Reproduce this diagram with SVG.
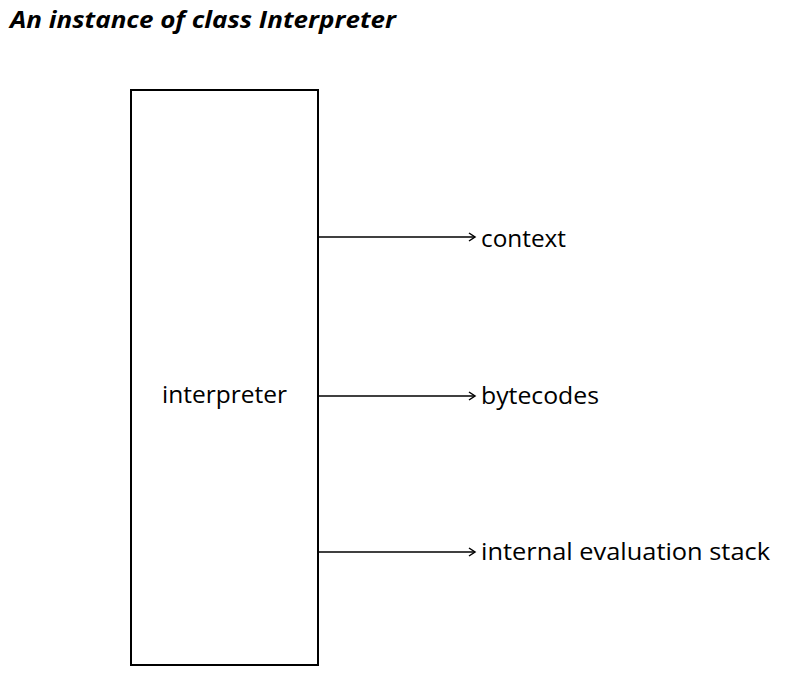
<svg xmlns="http://www.w3.org/2000/svg" width="786" height="678" viewBox="0 0 786 678">
<style>
.t{font-family:"Open Sans","Liberation Sans",sans-serif;font-size:24.5px;fill:#000}
.title{font-family:"Open Sans","Liberation Sans",sans-serif;font-size:24px;font-weight:bold;font-style:italic;fill:#000}
.c{stroke:#000;stroke-width:1.5;fill:none}
</style>
<defs>
<marker id="ah" markerWidth="10" markerHeight="10" refX="8" refY="5" orient="auto" markerUnits="userSpaceOnUse">
<path d="M2,1 L8,5 L2,9" fill="none" stroke="#000" stroke-width="1.5"/>
</marker>
</defs>
<rect width="786" height="678" fill="#fff"/>
<text class="title" x="10" y="28" textLength="386" lengthAdjust="spacingAndGlyphs">An instance of class Interpreter</text>
<g id="interpreter">
<rect x="131" y="90" width="187" height="575" fill="none" stroke="#000" stroke-width="2"/>
<text class="t" x="162" y="403" textLength="125" lengthAdjust="spacingAndGlyphs">interpreter</text>
</g>
<g id="connectors">
<line class="c" x1="318" y1="237" x2="475" y2="237" marker-end="url(#ah)"/>
<line class="c" x1="318" y1="396" x2="475" y2="396" marker-end="url(#ah)"/>
<line class="c" x1="318" y1="552" x2="475" y2="552" marker-end="url(#ah)"/>
</g>
<g id="context"><text class="t" x="481" y="247" textLength="85" lengthAdjust="spacingAndGlyphs">context</text></g>
<g id="bytecodes"><text class="t" x="481" y="404" textLength="118" lengthAdjust="spacingAndGlyphs">bytecodes</text></g>
<g id="stack"><text class="t" x="481" y="560" textLength="289" lengthAdjust="spacingAndGlyphs">internal evaluation stack</text></g>
</svg>
